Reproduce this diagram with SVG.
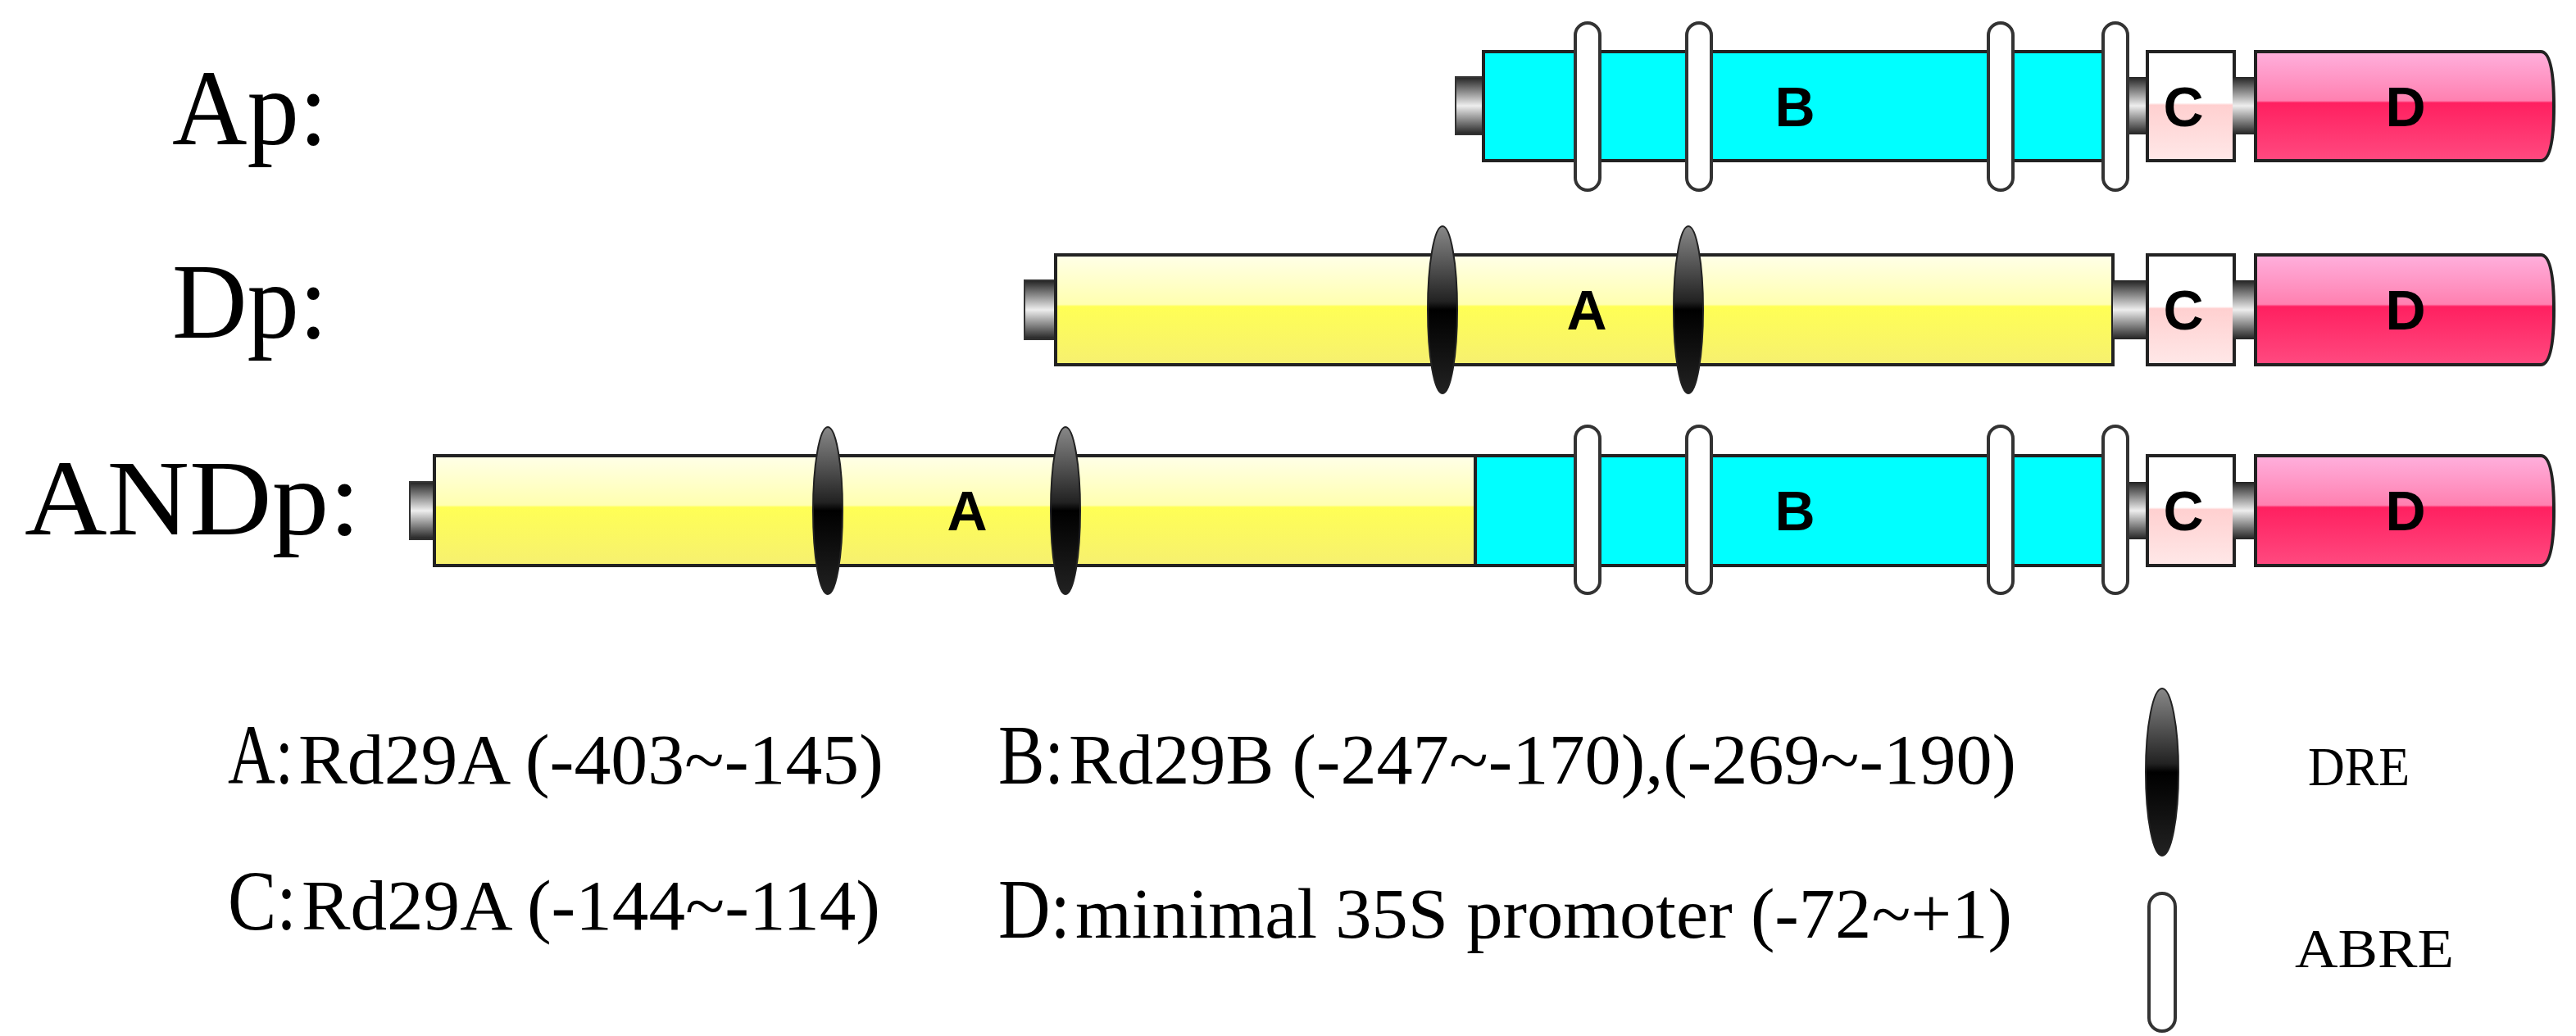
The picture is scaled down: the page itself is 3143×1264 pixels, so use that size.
<svg xmlns="http://www.w3.org/2000/svg" width="3143" height="1264" viewBox="0 0 3143 1264">
<style>
.lbl{font-family:"Liberation Serif",serif;font-size:132px;fill:#000}
.big{font-family:"Liberation Serif",serif;font-size:104px;fill:#000}
.sm{font-family:"Liberation Serif",serif;font-size:86px;fill:#000}
.seg{font-family:"Liberation Sans",Arial,sans-serif;font-size:68px;font-weight:bold;fill:#000;text-anchor:middle}
.out{stroke:#222;stroke-width:4}
.abre{fill:#fff;stroke:#333;stroke-width:4}
.dre{fill:url(#gdre);stroke:#222;stroke-width:2}
</style>
<defs>
<linearGradient id="gy" x1="0" y1="0" x2="0" y2="1"><stop offset="0" stop-color="#ffffe8"/><stop offset="0.45" stop-color="#ffffb0"/><stop offset="0.47" stop-color="#ffff55"/><stop offset="1" stop-color="#f6f070"/></linearGradient>
<linearGradient id="gp" x1="0" y1="0" x2="0" y2="1"><stop offset="0" stop-color="#ffb0dd"/><stop offset="0.45" stop-color="#ff80b0"/><stop offset="0.47" stop-color="#ff2060"/><stop offset="1" stop-color="#ff4a80"/></linearGradient>
<linearGradient id="gc" x1="0" y1="0" x2="0" y2="1"><stop offset="0" stop-color="#fff"/><stop offset="0.47" stop-color="#fff"/><stop offset="0.49" stop-color="#ffd0d0"/><stop offset="1" stop-color="#ffe8e8"/></linearGradient>
<linearGradient id="gg" x1="0" y1="0" x2="0" y2="1"><stop offset="0" stop-color="#222"/><stop offset="0.5" stop-color="#eee"/><stop offset="1" stop-color="#222"/></linearGradient>
<linearGradient id="gdre" x1="0" y1="0" x2="0" y2="1"><stop offset="0" stop-color="#888"/><stop offset="0.45" stop-color="#222"/><stop offset="0.5" stop-color="#000"/><stop offset="1" stop-color="#222"/></linearGradient>
</defs>
<text class="lbl" x="210" y="176" textLength="190" lengthAdjust="spacingAndGlyphs">Ap:</text>
<text class="lbl" x="210" y="412" textLength="190" lengthAdjust="spacingAndGlyphs">Dp:</text>
<text class="lbl" x="30" y="652" textLength="410" lengthAdjust="spacingAndGlyphs">ANDp:</text>
<g id="Ap">
<rect x="1776" y="94" width="36" height="70" fill="url(#gg)" stroke="#333" stroke-width="2"/>
<rect class="out" x="1810" y="63" width="784" height="133" fill="#00ffff"/>
<rect x="2594" y="94" width="30" height="70" fill="url(#gg)"/>
<rect class="out" x="2620" y="63" width="106" height="133" fill="url(#gc)"/>
<rect x="2724" y="94" width="30" height="70" fill="url(#gg)"/>
<path class="out" d="M2752 63H3100Q3116 63 3116 129.5Q3116 196 3100 196H2752Z" fill="url(#gp)"/>
<rect class="abre" x="1922" y="28" width="30" height="204" rx="15"/>
<rect class="abre" x="2058" y="28" width="30" height="204" rx="15"/>
<rect class="abre" x="2426" y="28" width="30" height="204" rx="15"/>
<rect class="abre" x="2566" y="28" width="30" height="204" rx="15"/>
<text class="seg" x="2190" y="154">B</text><text class="seg" x="2664" y="154">C</text><text class="seg" x="2935" y="154">D</text>
</g>
<g id="Dp">
<rect x="1250" y="342" width="40" height="72" fill="url(#gg)" stroke="#333" stroke-width="2"/>
<rect class="out" x="1288" y="311" width="1290" height="134" fill="url(#gy)"/>
<rect x="2578" y="342" width="46" height="72" fill="url(#gg)"/>
<rect class="out" x="2620" y="311" width="106" height="134" fill="url(#gc)"/>
<rect x="2724" y="342" width="30" height="72" fill="url(#gg)"/>
<path class="out" d="M2752 311H3100Q3116 311 3116 378Q3116 445 3100 445H2752Z" fill="url(#gp)"/>
<ellipse class="dre" cx="1760" cy="378" rx="18" ry="102"/>
<ellipse class="dre" cx="2060" cy="378" rx="18" ry="102"/>
<text class="seg" x="1936" y="402">A</text><text class="seg" x="2664" y="402">C</text><text class="seg" x="2935" y="402">D</text>
</g>
<g id="ANDp">
<rect x="500" y="588" width="32" height="70" fill="url(#gg)" stroke="#333" stroke-width="2"/>
<rect class="out" x="530" y="556" width="1272" height="134" fill="url(#gy)"/>
<rect class="out" x="1800" y="556" width="794" height="134" fill="#00ffff"/>
<rect x="2594" y="588" width="30" height="70" fill="url(#gg)"/>
<rect class="out" x="2620" y="556" width="106" height="134" fill="url(#gc)"/>
<rect x="2724" y="588" width="30" height="70" fill="url(#gg)"/>
<path class="out" d="M2752 556H3100Q3116 556 3116 623Q3116 690 3100 690H2752Z" fill="url(#gp)"/>
<ellipse class="dre" cx="1010" cy="623" rx="18" ry="102"/>
<ellipse class="dre" cx="1300" cy="623" rx="18" ry="102"/>
<rect class="abre" x="1922" y="520" width="30" height="204" rx="15"/>
<rect class="abre" x="2058" y="520" width="30" height="204" rx="15"/>
<rect class="abre" x="2426" y="520" width="30" height="204" rx="15"/>
<rect class="abre" x="2566" y="520" width="30" height="204" rx="15"/>
<text class="seg" x="1180" y="647">A</text><text class="seg" x="2190" y="647">B</text><text class="seg" x="2664" y="647">C</text><text class="seg" x="2935" y="647">D</text>
</g>
<g id="legend">
<text class="big" x="278" y="956" textLength="80" lengthAdjust="spacingAndGlyphs">A:</text>
<text class="sm" x="364" y="956" textLength="714" lengthAdjust="spacingAndGlyphs">Rd29A (-403~-145)</text>
<text class="big" x="1218" y="956" textLength="80" lengthAdjust="spacingAndGlyphs">B:</text>
<text class="sm" x="1304" y="956" textLength="1156" lengthAdjust="spacingAndGlyphs">Rd29B (-247~-170),(-269~-190)</text>
<text class="big" x="278" y="1134" textLength="84" lengthAdjust="spacingAndGlyphs">C:</text>
<text class="sm" x="368" y="1134" textLength="706" lengthAdjust="spacingAndGlyphs">Rd29A (-144~-114)</text>
<text class="big" x="1218" y="1144" textLength="88" lengthAdjust="spacingAndGlyphs">D:</text>
<text class="sm" x="1312" y="1144" textLength="1143" lengthAdjust="spacingAndGlyphs">minimal 35S promoter (-72~+1)</text>
<ellipse class="dre" cx="2638" cy="942" rx="20" ry="102"/>
<rect class="abre" x="2622" y="1090" width="32" height="168" rx="16"/>
<text class="sm" x="2816" y="958" textLength="124" lengthAdjust="spacingAndGlyphs" style="font-size:68px">DRE</text>
<text class="sm" x="2800" y="1180" textLength="194" lengthAdjust="spacingAndGlyphs" style="font-size:68px">ABRE</text>
</g>
</svg>
